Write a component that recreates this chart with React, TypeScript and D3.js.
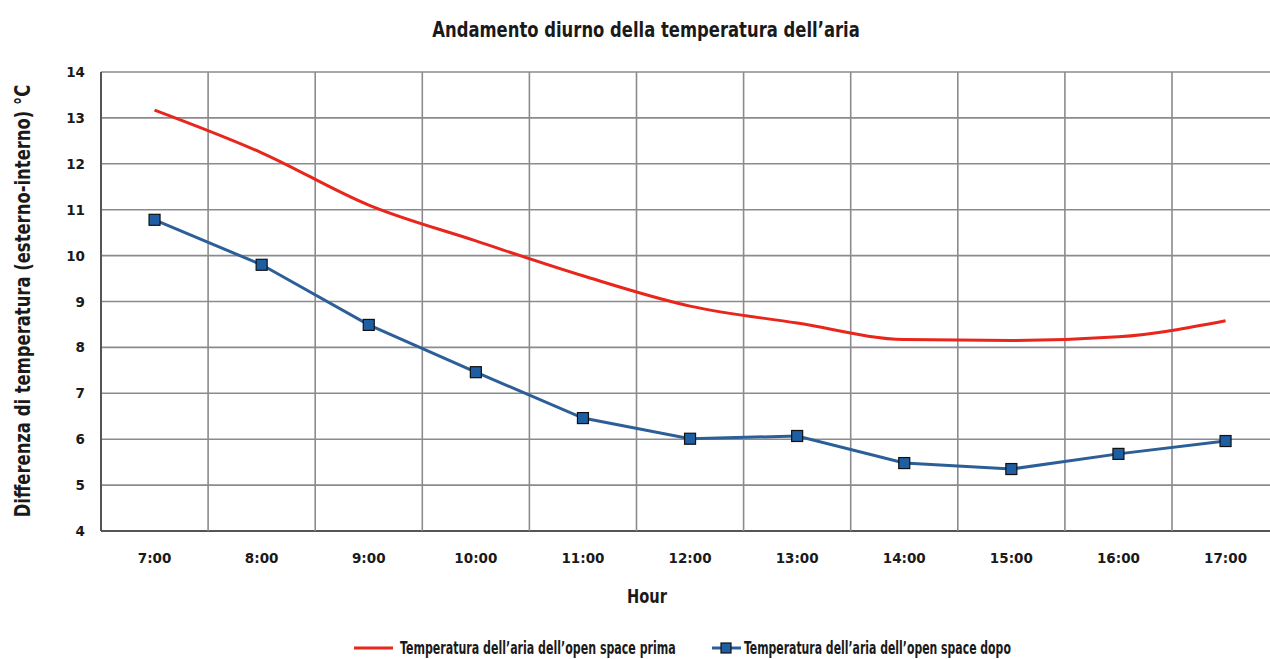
import React, { useEffect, useRef } from "react";
import * as d3 from "d3";

const hours = ["7:00", "8:00", "9:00", "10:00", "11:00", "12:00", "13:00", "14:00", "15:00", "16:00", "17:00"];
const before = [13.17, 12.24, 11.1, 10.32, 9.56, 8.9, 8.53, 8.17, 8.15, 8.23, 8.58];
const after = [10.78, 9.8, 8.49, 7.46, 6.46, 6.01, 6.07, 5.48, 5.35, 5.68, 5.96];
const yTicks = [4, 5, 6, 7, 8, 9, 10, 11, 12, 13, 14];

const condensed = "'DejaVu Sans Condensed', 'Liberation Sans Narrow', sans-serif";
const tickFont = "'DejaVu Sans', Verdana, sans-serif";

const App = () => {
  const ref = useRef<SVGSVGElement>(null);

  useEffect(() => {
    const width = 1270;
    const height = 659;
    const margin = { top: 72, left: 101, bottom: 128 };
    const plotRight = 101 + 11 * 107.1;

    const svg = d3.select(ref.current);
    svg.selectAll("*").remove();

    const x = d3.scaleBand().domain(hours).range([margin.left, plotRight]);
    const y = d3.scaleLinear().domain([4, 14]).range([height - margin.bottom, margin.top]);

    svg.append("rect").attr("width", width).attr("height", height).attr("fill", "#ffffff");

    // condensed bold label, squeezed horizontally to the width seen in the chart
    const label = (
      g: d3.Selection<any, unknown, null, undefined>,
      txt: string,
      px: number,
      len: number,
      pos: string,
      anchor = "start"
    ) => {
      const t = g
        .append("text")
        .attr("text-anchor", anchor)
        .style("font-family", condensed)
        .style("font-weight", "bold")
        .style("font-size", `${px}px`)
        .attr("fill", "#1a1a1a")
        .text(txt);
      const w = (t.node() as SVGTextElement).getComputedTextLength() || len;
      t.attr("transform", `${pos} scale(${len / w},1)`);
      return t;
    };

    label(svg, "Andamento diurno della temperatura dell\u2019aria", 21, 428, "translate(646,37)", "middle");

    const grid = svg.append("g");
    grid
      .selectAll(".hg")
      .data(yTicks)
      .enter()
      .append("line")
      .attr("x1", margin.left)
      .attr("x2", plotRight)
      .attr("y1", (d) => y(d))
      .attr("y2", (d) => y(d))
      .attr("stroke", (d) => (d === 4 ? "#555" : "#8c8a8e"))
      .attr("stroke-width", (d) => (d === 4 ? 2 : 1.6));

    const edges = hours.map((h) => x(h) as number).concat([plotRight]);
    grid
      .selectAll(".vg")
      .data(edges)
      .enter()
      .append("line")
      .attr("x1", (d) => d)
      .attr("x2", (d) => d)
      .attr("y1", y(14))
      .attr("y2", y(4))
      .attr("stroke", (d, i) => (i === 0 ? "#555" : "#8c8a8e"))
      .attr("stroke-width", (d, i) => (i === 0 ? 2 : 1.6));

    // y tick labels
    svg
      .append("g")
      .selectAll("text")
      .data(yTicks)
      .enter()
      .append("text")
      .attr("x", 85)
      .attr("y", (d) => y(d) + 5)
      .attr("text-anchor", "end")
      .style("font-family", tickFont)
      .style("font-weight", "bold")
      .style("font-size", "13.5px")
      .attr("fill", "#1a1a1a")
      .text((d) => d);

    // x tick labels
    svg
      .append("g")
      .selectAll("text")
      .data(hours)
      .enter()
      .append("text")
      .attr("x", (d) => (x(d) as number) + x.bandwidth() / 2)
      .attr("y", 563)
      .attr("text-anchor", "middle")
      .style("font-family", tickFont)
      .style("font-weight", "bold")
      .style("font-size", "13.5px")
      .attr("fill", "#1a1a1a")
      .text((d) => d);

    label(svg, "Hour", 20, 40, "translate(647,603)", "middle");

    label(
      svg,
      "Differenza di temperatura (esterno-interno) \u00b0C",
      21,
      433,
      "translate(30,301) rotate(-90)",
      "middle"
    );

    const cx = (i: number) => (x(hours[i]) as number) + x.bandwidth() / 2;

    const redLine = d3
      .line<number>()
      .x((d, i) => cx(i))
      .y((d) => y(d))
      .curve(d3.curveMonotoneX);
    svg
      .append("path")
      .attr("d", redLine(before))
      .attr("fill", "none")
      .attr("stroke", "#e8261b")
      .attr("stroke-width", 3);

    const blueLine = d3
      .line<number>()
      .x((d, i) => cx(i))
      .y((d) => y(d));
    svg
      .append("path")
      .attr("d", blueLine(after))
      .attr("fill", "none")
      .attr("stroke", "#2c5f97")
      .attr("stroke-width", 3);

    svg
      .append("g")
      .selectAll("rect")
      .data(after)
      .enter()
      .append("rect")
      .attr("x", (d, i) => cx(i) - 5.5)
      .attr("y", (d) => y(d) - 5.5)
      .attr("width", 11)
      .attr("height", 11)
      .attr("fill", "#1e5fa3")
      .attr("stroke", "#111")
      .attr("stroke-width", 1.2);

    // legend
    const lg = svg.append("g");
    lg.append("line")
      .attr("x1", 354)
      .attr("x2", 393)
      .attr("y1", 648)
      .attr("y2", 648)
      .attr("stroke", "#e8261b")
      .attr("stroke-width", 3);
    label(lg, "Temperatura dell\u2019aria dell\u2019open space prima", 18, 276, "translate(400,654)");
    lg.append("line")
      .attr("x1", 712)
      .attr("x2", 741)
      .attr("y1", 648)
      .attr("y2", 648)
      .attr("stroke", "#2c5f97")
      .attr("stroke-width", 3);
    lg.append("rect")
      .attr("x", 721)
      .attr("y", 643)
      .attr("width", 10)
      .attr("height", 10)
      .attr("fill", "#1e5fa3")
      .attr("stroke", "#111")
      .attr("stroke-width", 1.2);
    label(lg, "Temperatura dell\u2019aria dell\u2019open space dopo", 18, 267, "translate(744,654)");
  }, []);

  return (
    <svg
      ref={ref}
      width={1270}
      height={659}
      style={{ position: "absolute", left: 0, top: 0 }}
    ></svg>
  );
};

export default App;
